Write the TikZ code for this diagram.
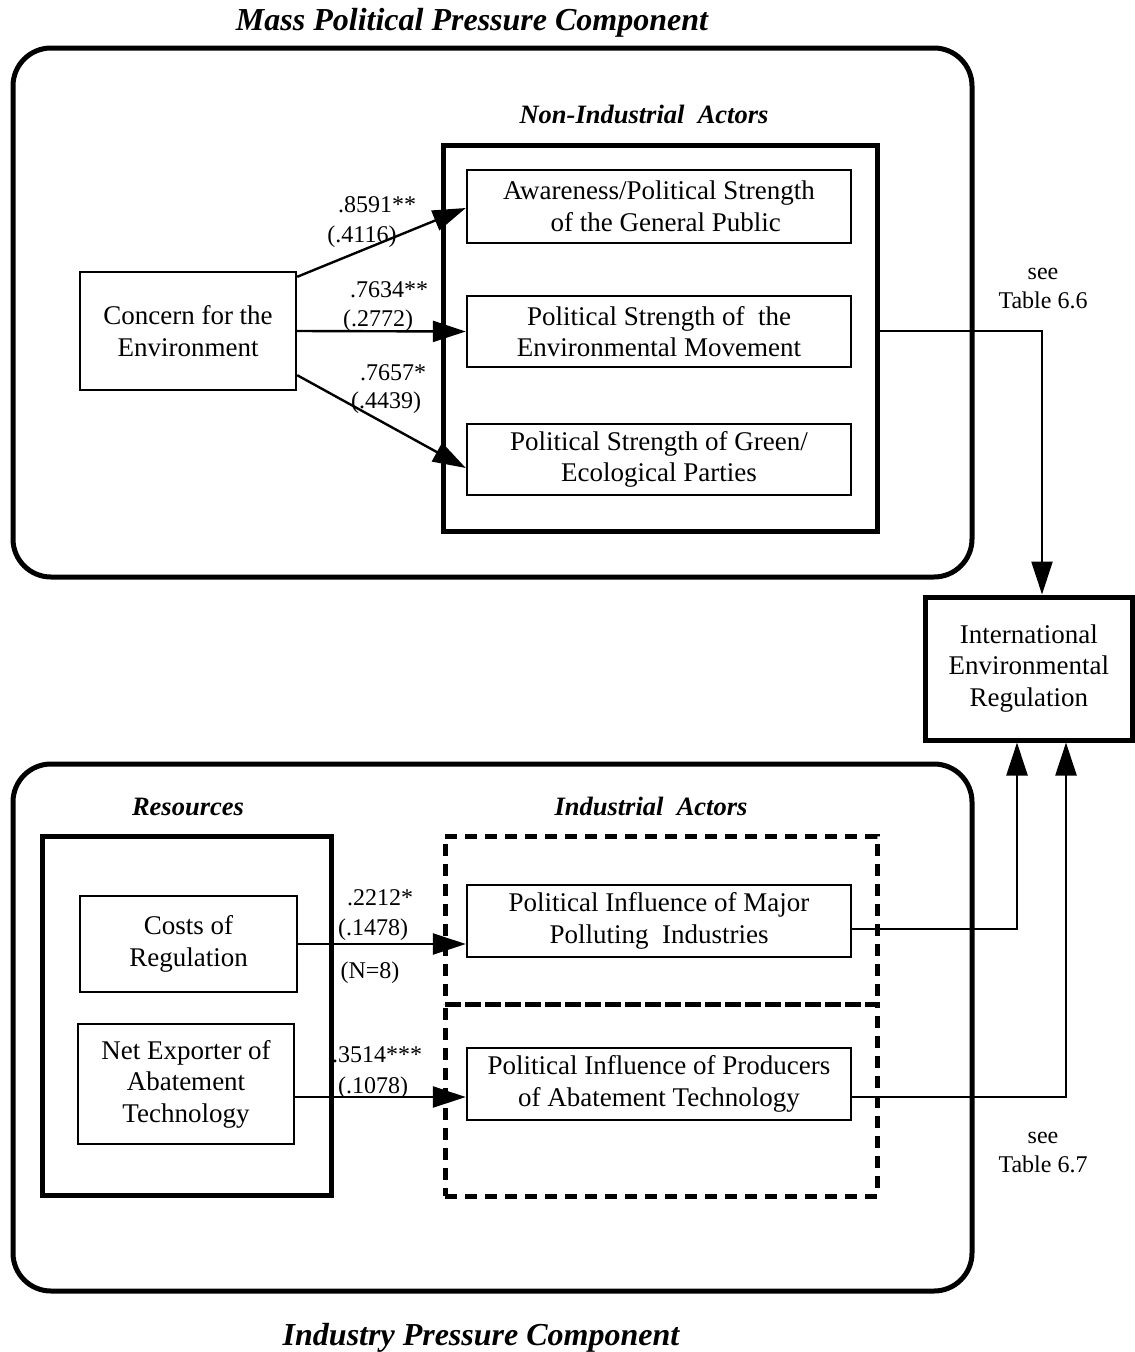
\documentclass[tikz,border=0pt]{standalone}
\usepackage{fontspec}
\setmainfont{Liberation Serif}
\usetikzlibrary{arrows.meta,calc}
\begin{document}
\begin{tikzpicture}[x=1pt,y=-1pt,
  txt/.style={font=\fontsize{27}{31.5}\selectfont, align=center},
  lbl/.style={font=\fontsize{24}{28.5}\selectfont, inner sep=0pt, anchor=base},
  hdr/.style={font=\fontsize{26.5}{31}\selectfont\bfseries\itshape, inner sep=0pt, anchor=base},
  ttl/.style={font=\fontsize{32}{36}\selectfont\bfseries\itshape, inner sep=0pt, anchor=base},
  thinbox/.style={draw, line width=2.4pt, inner sep=0pt, txt},
  thickbox/.style={draw, line width=5pt, inner sep=0pt},
  roundbox/.style={draw, line width=5pt, rounded corners=38pt, inner sep=0pt},
  dashbox/.style={draw, line width=5pt, dash pattern=on 12pt off 8pt, inner sep=0pt},
  conn/.style={line width=2.4pt},
  arr/.style={conn, -{Triangle[length=33pt,width=21pt]}},
]
\useasboundingbox (0,0) rectangle (1135,1352);

% titles
\node[ttl] (ttop) at (472,30) {Mass Political Pressure Component};
\node[ttl] (tbot) at (481,1345) {Industry Pressure Component};

% outer rounded containers
\node[roundbox, minimum width=959pt, minimum height=529pt] (mass) at (492.5,312.5) {};
\node[roundbox, minimum width=959pt, minimum height=527pt] (ind) at (492.5,1027.5) {};

% headers
\node[hdr] (hnon) at (644,123) {Non-Industrial\ \ Actors};
\node[hdr] (hres) at (188,815) {Resources};
\node[hdr] (hind) at (651,815) {Industrial\ \ Actors};

% non-industrial actors
\node[thickbox, minimum width=434pt, minimum height=386pt] (nonind) at (660,338) {};
\node[thinbox, minimum width=216pt, minimum height=118pt] (concern) at (188,331) {Concern for the\\Environment};
\node[thinbox, minimum width=384pt, minimum height=73pt] (aware) at (659,206.5) {Awareness/Political Strength\\\ \ of the General Public};
\node[thinbox, minimum width=384pt, minimum height=71pt] (envmov) at (659,331.5) {Political Strength of\ \ the\\Environmental Movement};
\node[thinbox, minimum width=384pt, minimum height=71pt] (green) at (659,459.5) {Political Strength of Green/\\Ecological Parties};

% IER
\node[thickbox, txt, minimum width=207.5pt, minimum height=143pt] (ier) at (1028.75,668.5) {International\\Environmental\\Regulation};

% resources
\node[thickbox, minimum width=289pt, minimum height=359pt] (res) at (186.5,1015.5) {};
\node[thinbox, minimum width=217pt, minimum height=96pt] (costs) at (188.5,944) {Costs of\\Regulation};
\node[thinbox, minimum width=216pt, minimum height=120pt] (netexp) at (186,1084) {Net Exporter of\\Abatement\\Technology};

% industrial actors
\node[dashbox, minimum width=432pt, minimum height=168pt] (dash1) at (661,920) {};
\node[dashbox, minimum width=432pt, minimum height=192pt] (dash2) at (661,1100) {};
\node[thinbox, minimum width=384pt, minimum height=72pt] (major) at (659,921) {Political Influence of Major\\Polluting\ \ Industries};
\node[thinbox, minimum width=384pt, minimum height=72pt] (prod) at (659,1084) {Political Influence of Producers\\of Abatement Technology};

% coefficient labels
\node[lbl] (l1a) at (377,212) {.8591**};
\node[lbl] (l1b) at (362,242) {(.4116)};
\node[lbl] (l2a) at (389,297) {.7634**};
\node[lbl] (l2b) at (378,326) {(.2772)};
\node[lbl] (l3a) at (393,380) {.7657*};
\node[lbl] (l3b) at (386,408) {(.4439)};
\node[lbl] (l4a) at (380,905) {.2212*};
\node[lbl] (l4b) at (373,935) {(.1478)};
\node[lbl] (l4c) at (370,978) {(N=8)};
\node[lbl] (l5a) at (377,1062) {.3514***};
\node[lbl] (l5b) at (373,1093) {(.1078)};
\node[lbl, align=center] (see66) at (1043,308) {see\\Table 6.6};
\node[lbl, align=center] (see67) at (1043,1172) {see\\Table 6.7};

% arrows concern -> actors
\draw[arr] ($(concern.north east)+(0,6)$) -- ($(aware.west)+(0,1.5)$);
\draw[arr] (concern.east) -- (envmov.west);
\draw[arr] ($(concern.south east)+(0,-16)$) -- ($(green.west)+(0,8.5)$);

% arrows resources -> industrial actors
\draw[arr] (costs.east) -- (major.west |- costs.east);
\draw[arr] ($(netexp.east)+(0,13)$) -- ($(prod.west)+(0,13)$);

% connectors to IER
\coordinate (c66) at (1042,331);
\coordinate (c71) at (1017,929);
\coordinate (c72) at (1066,1097);
\draw[arr] (nonind.east |- c66) -- (c66) -- (c66 |- ier.north);
\draw[arr] ($(major.east)+(0,8)$) -- (c71) -- (c71 |- ier.south);
\draw[arr] ($(prod.east)+(0,13)$) -- (c72) -- (c72 |- ier.south);
\end{tikzpicture}
\end{document}
